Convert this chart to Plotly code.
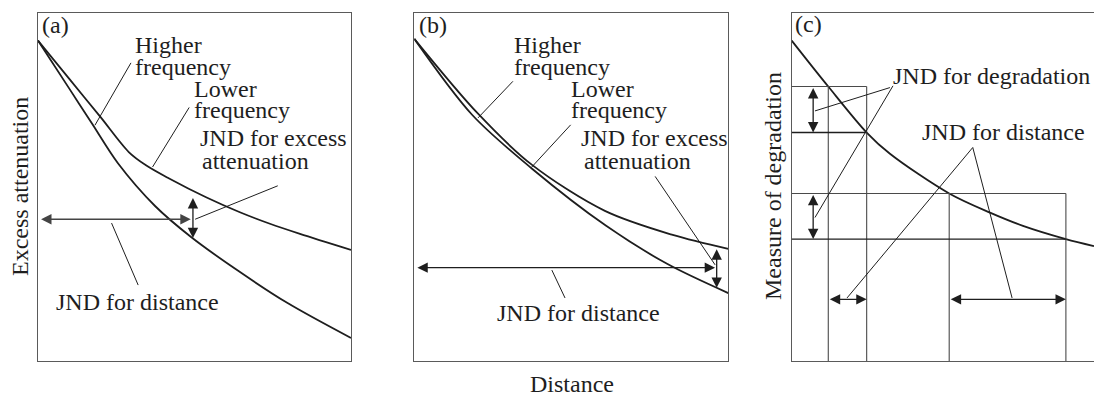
import plotly.graph_objects as go

W, H = 1094, 396

# ---------------- data (schematic units 0..10) ----------------
# Panel (a)
a_dist = [0.0, 1.0, 2.0, 2.9, 3.45, 4.19, 5.37, 6.45, 7.41, 8.37, 10.0]
a_low_freq = [9.20, 8.10, 7.00, 6.00, 5.62, 5.24, 4.70, 4.27, 3.94, 3.65, 3.19]
a_dist_h = [0.0, 1.0, 1.73, 2.56, 3.74, 4.89, 6.36, 7.96, 10.0]
a_high_freq = [9.20, 7.82, 6.81, 5.67, 4.45, 3.56, 2.61, 1.67, 0.66]

# Panel (b)
b_dist = [0.0, 2.03, 3.75, 6.07, 8.23, 10.0]
b_low_freq = [9.25, 7.10, 5.63, 4.31, 3.62, 3.22]
b_dist_h = [0.0, 1.84, 3.75, 6.11, 8.05, 10.0]
b_high_freq = [9.25, 7.07, 5.52, 3.88, 2.79, 1.95]

# Panel (c)
c_dist = [0.0, 1.21, 2.48, 3.25, 5.21, 6.56, 7.65, 9.07, 10.0]
c_degr = [9.20, 7.88, 6.56, 5.95, 4.81, 4.26, 3.88, 3.50, 3.30]
c_marks_x = [1.21, 2.48, 5.21, 9.07]      # distances marked by the grid
c_marks_y = [7.88, 6.56, 4.81, 3.50]      # degradation at those distances

TXT = "Liberation Serif"
INK = "#1e1e1e"
FRAME = "#5a5a5a"

fig = go.Figure()

ydom = [35 / H, 383.3 / H]
doms = {
    "a": [38 / W, 351 / W],
    "b": [414.3 / W, 728.3 / W],
    "c": [791.7 / W, 1.0],
}

def curve(x, y, xa, ya):
    fig.add_trace(go.Scatter(x=x, y=y, mode="lines", xaxis=xa, yaxis=ya,
                             line=dict(color=INK, width=1.8, shape="spline", smoothing=0.9),
                             hoverinfo="skip", showlegend=False))

curve(a_dist, a_low_freq, "x", "y")
curve(a_dist_h, a_high_freq, "x", "y")
curve(b_dist, b_low_freq, "x2", "y2")
curve(b_dist_h, b_high_freq, "x2", "y2")
curve(c_dist, c_degr, "x3", "y3")

shapes = []
annots = []

def seg(xr, yr, x0, y0, x1, y1, color=INK, width=1.0):
    shapes.append(dict(type="line", xref=xr, yref=yr, x0=x0, y0=y0, x1=x1, y1=y1,
                       line=dict(color=color, width=width)))

def arrow(xr, yr, x0, y0, x1, y1, color=INK):
    annots.append(dict(xref=xr, yref=yr, axref=xr, ayref=yr, x=x1, y=y1, ax=x0, ay=y0,
                       text="", showarrow=True, arrowhead=2, arrowside="end+start",
                       arrowsize=1.6, arrowwidth=1.3, arrowcolor=color, standoff=0, startstandoff=0))

def label(xr, yr, x, y, s, size=24):
    annots.append(dict(xref=xr, yref=yr, x=x, y=y, text=s, showarrow=False,
                       xanchor="left", yanchor="middle",
                       font=dict(family=TXT, size=size, color=INK)))

# ---- panel (a) ----
label("x", "y", 0.05, 9.64, "(a)")
label("x", "y", 3.05, 9.08, "Higher")
label("x", "y", 3.05, 8.45, "frequency")
label("x", "y", 4.92, 7.80, "Lower")
label("x", "y", 4.92, 7.21, "frequency")
label("x", "y", 5.12, 6.41, "JND for excess")
label("x", "y", 5.18, 5.75, "attenuation")
label("x", "y", 0.52, 1.70, "JND for distance")
seg("x", "y", 2.97, 8.56, 1.82, 6.77)
seg("x", "y", 4.83, 7.28, 3.66, 5.57)
seg("x", "y", 7.66, 5.03, 5.02, 4.07)
seg("x", "y", 3.20, 2.18, 2.35, 3.96)
arrow("x", "y", 0.05, 4.07, 4.88, 4.07, color="#444")
arrow("x", "y", 4.95, 4.72, 4.95, 3.53)

# ---- panel (b) ----
label("x2", "y2", 0.08, 9.64, "(b)")
label("x2", "y2", 3.10, 9.08, "Higher")
label("x2", "y2", 3.10, 8.45, "frequency")
label("x2", "y2", 4.93, 7.82, "Lower")
label("x2", "y2", 4.93, 7.21, "frequency")
label("x2", "y2", 5.25, 6.41, "JND for excess")
label("x2", "y2", 5.33, 5.75, "attenuation")
label("x2", "y2", 2.58, 1.38, "JND for distance")
seg("x2", "y2", 3.14, 8.03, 2.03, 6.98)
seg("x2", "y2", 4.98, 6.78, 3.72, 5.55)
seg("x2", "y2", 7.67, 5.30, 9.58, 2.76)
seg("x2", "y2", 4.80, 1.81, 4.38, 2.61)
arrow("x2", "y2", 0.05, 2.68, 9.58, 2.68)
arrow("x2", "y2", 9.63, 3.25, 9.63, 2.10)

# ---- panel (c) ----
d1, d2, d3, d4 = c_marks_x
g1, g2, g3, g4 = c_marks_y
GRID = "#4a4a4a"
seg("x3", "y3", d1, 0, d1, g1, GRID, 1.1)
seg("x3", "y3", d2, 0, d2, g1, GRID, 1.1)
seg("x3", "y3", 0, g1, d2, g1, GRID, 1.1)
seg("x3", "y3", 0, g2, d2, g2, INK, 1.3)
seg("x3", "y3", d3, 0, d3, g3, GRID, 1.1)
seg("x3", "y3", d4, 0, d4, g3, GRID, 1.1)
seg("x3", "y3", 0, g3, d4, g3, GRID, 1.1)
seg("x3", "y3", 0, g4, d4, g4, INK, 1.3)
arrow("x3", "y3", 0.71, g1, 0.71, g2)
arrow("x3", "y3", 0.71, g3, 0.71, g4)
arrow("x3", "y3", d1, 1.77, d2, 1.77)
arrow("x3", "y3", d3, 1.77, d4, 1.77)
label("x3", "y3", 0.05, 9.68, "(c)")
label("x3", "y3", 3.30, 8.19, "JND for degradation")
label("x3", "y3", 4.23, 6.58, "JND for distance")
seg("x3", "y3", 3.25, 7.85, 0.77, 7.18)
seg("x3", "y3", 3.35, 7.90, 0.77, 4.12)
seg("x3", "y3", 5.99, 6.13, 1.83, 1.81)
seg("x3", "y3", 5.99, 6.13, 7.29, 1.81)

# ---- axis titles ----
annots.append(dict(xref="paper", yref="paper", x=20 / W, y=1 - 187 / H, text="Excess attenuation",
                   textangle=-90, showarrow=False, xanchor="center", yanchor="middle",
                   font=dict(family=TXT, size=24, color=INK)))
annots.append(dict(xref="paper", yref="paper", x=773 / W, y=1 - 186 / H, text="Measure of degradation",
                   textangle=-90, showarrow=False, xanchor="center", yanchor="middle",
                   font=dict(family=TXT, size=24, color=INK)))
annots.append(dict(xref="paper", yref="paper", x=572 / W, y=1 - 384 / H, text="Distance",
                   showarrow=False, xanchor="center", yanchor="middle",
                   font=dict(family=TXT, size=24, color=INK)))

def ax(dom, mirror=True):
    return dict(domain=dom, range=[0, 10], showgrid=False, zeroline=False, showticklabels=False,
                ticks="", showline=True, linecolor=FRAME, linewidth=1.3, mirror=mirror, fixedrange=True)

fig.update_layout(
    width=W, height=H, margin=dict(l=0, r=0, t=0, b=0),
    paper_bgcolor="white", plot_bgcolor="white",
    xaxis=dict(**ax(doms["a"]), anchor="y"),
    yaxis=dict(**ax(ydom), anchor="x"),
    xaxis2=dict(**ax(doms["b"]), anchor="y2"),
    yaxis2=dict(**ax(ydom), anchor="x2"),
    xaxis3=dict(**ax(doms["c"]), anchor="y3"),
    yaxis3=dict(**ax(ydom, mirror=False), anchor="x3"),
    shapes=shapes, annotations=annots, showlegend=False,
)

fig.write_html("out.html", config={"displayModeBar": False},
               post_script="document.body.style.margin='0';document.body.style.padding='0';")
